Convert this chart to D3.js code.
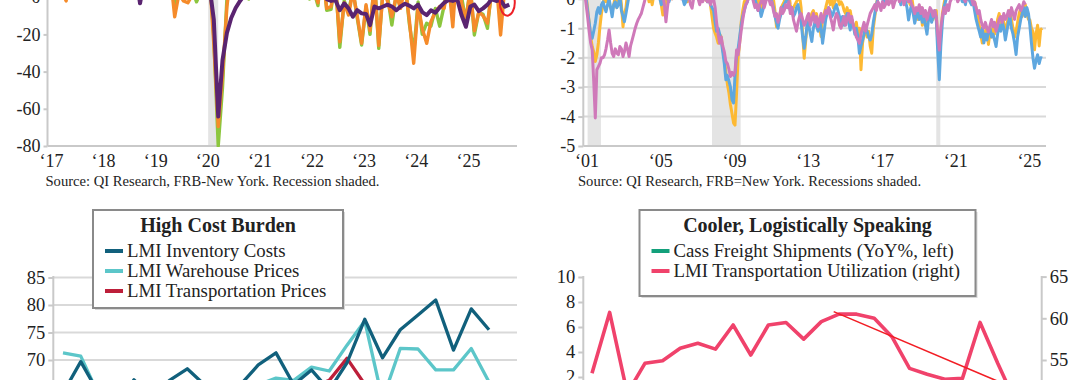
<!DOCTYPE html>
<html><head><meta charset="utf-8">
<script src="https://cdn.jsdelivr.net/npm/d3@7"></script>
<style>
body{margin:0;background:#fff;}
svg{display:block;font-family:"Liberation Serif","Times New Roman",serif;}
</style></head><body>
<svg id="c" width="1080" height="380"></svg>
<script>
// ---------------- DATA ----------------
// Top-left: FRB-NY survey indexes, monthly Jan 2017 - Nov 2025
const tlStart = [2017, 0];
const tlGreen = [
 7,17,14,6,2,16,9,20,22,25,17,15,
 15,12,20,14,18,22,19,24,17,19,21,10,
 4,8,4,9,15,-6,4,3,2,4,-2.5,3,
 5,12,-21.5,-80,-48.5,-0.5,17,3.7,17,10.5,-1,5,
 4,12,17,26,24,17,43,18,34,20,31,32,
 -1,3,-4.5,20,-7,-6.5,10,-27,-2,-8,4,-11,
 -25.7,-5,-20,10,-27.5,6,1,-15,2,-4.5,9,-14,
 -30,-2.5,-20,-14,-15.5,-6,-15.6,-4.7,11,-11.9,31,0.2,
 -12.6,5.7,-20.3,-8.1,-9.2,-16.7,5.5,11.9,-8.7,10.7,18.7];
const tlOrange = [
 8,15,12,4,-2,14,7,18,20,22,15,13,
 14,10,18,12,16,20,18,22,15,17,20,8,
 3,6,2,8,12,-10.5,2,-2,-3,1,2,3,
 4,10,-25,-69.6,-42,-5,14,3,10,12,7,5,
 5,12,17,25,22,15,35,16,28,18,26,27,
 2,5,-3,15,-6,-5,8,-24,-3,-9.6,3,-10,
 -24.8,-4,-18,8,-26,4,-2,-10.5,1,-6,6,-12,
 -35.5,-4,-17,-24.8,-13,-8,-5,-6,8,-15.9,20,-3,
 -12,4,-18,-8,-10,-14,3,9,-20.3,6,12];
const tlPurple = [
 10,14,13,9,6,12,10,16,18,20,16,14,
 14,12,15,12,14,16,15,17,12,-3.3,10,6,
 5,6,4,7,9,1,3,4,2,3,2,3,
 6,5,-12,-64.2,-33.8,-19.2,-11.2,-5.8,-2,1,3,4,
 5,10,14,18,20,18,25,20,24,20,24,25,
 3,4,2,6,-1,-2,-1.5,-7,-3.3,-6,-10.5,-7,
 -8.7,-9,-15,-5,-6,-5,-4,-5,-7,-5,-3.5,-4.5,
 -6,-4,-8,-9.6,-7,-8.3,-5.5,-3,-1.5,-2,-1,-9.6,
 -15.9,-5,-4,-7.5,-6,-4,-1,-2,-1.5,-5.1,-4];
const tlYTicks = [-80,-60,-40,-20,0];
const tlXLabels = ["‘17","‘18","‘19","‘20","‘21","‘22","‘23","‘24","‘25"];
const tlRecession = [["2020-02-01","2020-04-01"]];

// Top-right: monthly Jan 2001 - Nov 2025
const trStart = [2001, 0];
const trYellow = [
 0.3,0.1,-0.3,-0.8,-1.3,-1.62,-1.8,-2.13,-1.9,-1.5,-0.95,-0.5,
 -0.2,0.1,-0.1,0.1,-0.2,-0.3,-0.44,-0.2,0.1,-0.3,0.2,0.3,
 -0.2,-0.95,-0.5,-0.3,0.2,0.4,0.3,0.5,0.6,0.4,0.5,0.6,
 0.3,0.2,0.4,0.3,0.5,0.2,-0.1,0.1,-0.2,0.1,0.2,0.3,
 0.1,0.2,-0.2,-0.55,-0.4,-0.1,0.2,0.3,0.1,0.0,0.2,0.3,
 0.3,0.2,0.4,0.2,0.1,-0.1,0.0,-0.1,0.1,0.2,0.0,0.1,
 0.2,0.1,0.0,0.2,0.1,0.3,0.1,-0.05,0.1,0.0,-0.2,-0.6,
 -1.0,-1.17,-1.3,-1.51,-1.2,-1.3,-1.7,-2.0,-2.5,-2.9,-3.2,-3.6,
 -3.9,-4.22,-4.29,-3.2,-2.0,-1.5,-0.8,-0.4,-0.1,0.0,0.1,0.2,
 0.3,0.2,0.4,0.3,0.1,-0.2,0.0,-0.3,0.1,0.2,0.0,0.1,
 0.2,0.3,0.1,0.0,-0.4,-0.95,-0.7,-0.6,-0.3,-0.2,-0.1,0.1,
 0.1,0.2,-0.2,-0.5,-0.3,-0.2,-0.1,0.0,0.1,-0.3,-1.2,-2.02,
 -1.4,-0.9,-0.6,-0.7,-0.5,-0.4,-0.6,-0.5,-0.8,-0.9,-1.28,-0.7,
 -0.5,-0.3,-0.1,0.1,-0.2,0.0,-0.3,-0.1,0.1,0.0,-0.2,-0.1,
 -0.2,-0.4,-0.5,-0.3,-0.6,-0.4,-0.7,-0.9,-1.1,-0.8,-1.2,-1.0,
 -2.41,-1.5,-1.2,-1.0,-1.3,-1.1,-1.6,-1.85,-1.0,-0.6,-0.2,0.1,
 0.3,0.4,0.2,0.1,0.0,0.2,0.1,0.3,0.2,0.4,0.2,0.3,
 0.2,0.3,0.1,0.2,0.0,0.1,-0.1,0.0,-0.2,0.1,-0.3,-0.6,
 -0.5,-0.7,-0.4,-0.3,-0.9,-0.6,-0.8,-0.5,-0.6,-0.4,-0.5,-0.7,
 -0.5,-0.4,-1.5,-2.0,-1.2,-0.5,-0.2,0.1,0.3,0.5,0.4,0.6,
 0.5,0.6,0.7,0.5,0.4,0.6,0.3,0.2,0.1,0.0,0.2,0.1,
 0.0,-0.2,-0.1,-0.3,-0.6,-0.9,-1.2,-1.5,-1.3,-1.1,-1.0,-1.55,
 -1.1,-1.3,-0.9,-1.2,-1.0,-0.7,-0.5,-0.9,-0.6,-0.8,-1.2,-0.9,
 -0.6,-0.4,-0.7,-1.0,-1.3,-1.1,-0.8,-0.5,-0.3,-0.6,-0.4,-0.2,
 -0.5,-0.7,-0.72,-1.0,-1.11,-1.73,-1.2,-0.9,-1.6,-1.05,-1.0];
const trBlue = [
 0.2,0.0,-0.4,-0.8,-1.2,-1.34,-1.1,-0.83,-0.44,-0.3,-0.5,-0.2,
 -0.1,-0.3,-0.44,-0.2,0.0,-0.3,-0.61,-0.2,-0.1,-0.3,-0.2,0.1,
 -0.4,-0.6,-0.78,-0.5,-0.2,0.1,0.2,0.3,0.1,0.2,0.4,0.3,
 0.4,0.3,0.2,0.4,0.5,0.3,0.2,0.1,0.0,0.2,0.3,0.1,
 0.1,0.0,-0.2,-0.1,0.1,0.2,0.0,-0.1,0.1,0.2,0.1,0.3,
 0.2,0.3,0.1,0.2,0.0,-0.2,-0.1,0.1,0.2,0.0,0.1,0.2,
 0.3,0.2,0.1,0.2,0.3,0.1,0.0,0.1,-0.1,0.0,-0.2,-0.3,
 -0.4,-0.8,-1.1,-1.0,-1.2,-1.4,-1.8,-2.2,-2.75,-2.6,-2.8,-3.0,
 -3.43,-3.54,-2.6,-1.88,-1.7,-1.3,-0.9,-0.6,-0.4,-0.2,-0.1,0.1,
 0.2,0.3,0.1,0.0,-0.2,-0.4,-0.3,-0.6,-0.4,-0.2,0.0,0.1,
 0.2,0.1,-0.1,-0.3,-0.6,-0.8,-1.0,-0.7,-0.5,-0.3,-0.2,-0.1,
 0.0,-0.2,-0.4,-0.3,-0.6,-0.5,-0.3,-0.2,-0.5,-0.8,-1.3,-1.68,
 -1.3,-0.8,-0.9,-1.2,-1.45,-1.0,-0.8,-0.9,-1.1,-0.7,-1.0,-1.51,
 -1.1,-0.7,-0.5,-0.3,-0.4,-0.6,-0.5,-0.3,-0.2,-0.4,-0.6,-0.8,
 -0.6,-0.9,-0.7,-0.5,-0.8,-1.06,-0.7,-0.9,-1.2,-1.0,-1.3,-1.85,
 -1.6,-1.4,-1.2,-1.0,-1.1,-1.3,-1.4,-1.2,-0.8,-0.5,-0.2,0.0,
 0.1,0.2,0.0,-0.1,0.1,0.2,0.0,0.1,-0.1,0.2,0.1,0.0,
 0.1,0.0,-0.2,0.1,0.0,-0.1,-0.3,-0.72,-0.4,-0.2,-0.5,-0.83,
 -0.6,-0.4,-0.7,-0.5,-0.8,-0.6,-0.9,-1.2,-0.7,-0.5,-0.8,-0.6,
 -0.4,-0.7,-1.8,-2.75,-1.6,-0.8,-0.3,-0.1,0.1,0.2,0.0,0.1,
 0.2,0.3,0.1,0.2,0.0,0.1,-0.1,0.0,-0.2,0.1,0.0,-0.1,
 -0.2,-0.1,-0.4,-0.7,-0.9,-1.1,-1.3,-1.0,-1.5,-1.2,-1.4,-1.1,
 -1.0,-1.3,-1.2,-1.4,-1.62,-1.2,-0.9,-1.1,-0.8,-1.0,-1.4,-1.1,
 -0.8,-0.6,-1.0,-1.2,-1.5,-1.89,-1.3,-1.0,-0.7,-0.5,-0.3,-0.6,
 -0.3,-0.5,-0.9,-1.5,-2.0,-2.36,-2.1,-1.9,-2.2,-2.0,-2.02];
const trPink = [
 0.2,-0.2,-0.6,-1.1,-1.5,-1.74,-2.8,-4.05,-2.41,-2.3,-2.19,-2.0,
 -2.0,-1.9,-1.7,-1.4,-1.06,-1.5,-1.85,-1.96,-1.7,-1.85,-1.9,-1.62,
 -1.7,-1.96,-1.8,-1.5,-1.7,-1.96,-1.6,-1.4,-1.2,-1.0,-0.83,-0.7,
 -0.6,-0.49,-0.3,-0.1,0.1,0.2,0.3,0.2,0.4,0.3,0.2,0.3,
 0.2,0.1,0.0,0.2,-0.2,-0.78,-0.3,0.1,0.2,0.0,0.1,0.2,
 0.3,0.1,0.2,0.0,0.1,0.2,0.1,0.0,0.1,-0.2,-0.32,0.0,
 0.1,0.2,0.0,-0.2,0.0,-0.1,0.1,0.0,-0.1,0.1,-0.2,0.0,
 0.0,-0.3,-0.8,-1.2,-1.51,-1.3,-1.6,-1.8,-2.13,-2.2,-2.4,-2.64,
 -2.5,-2.6,-2.47,-1.74,-1.9,-1.51,-1.1,-0.72,-0.4,-0.2,-0.1,0.1,
 0.2,0.1,-0.1,-0.3,-0.2,-0.4,-0.2,-0.1,0.0,-0.3,-0.1,0.1,
 0.0,-0.2,-0.1,-0.4,-0.6,-0.5,-0.8,-0.6,-0.3,-0.5,-0.4,-0.2,
 -0.3,-0.1,-0.5,-0.3,-0.7,-0.9,-1.1,-0.8,-0.6,-0.5,-0.7,-0.9,
 -0.8,-0.6,-0.5,-0.9,-0.7,-0.5,-0.8,-0.6,-0.95,-0.7,-0.5,-0.8,
 -0.6,-0.4,-0.5,-0.3,-0.6,-0.8,-1.06,-0.7,-0.5,-0.6,-0.9,-1.0,
 -0.8,-0.6,-0.9,-0.7,-0.5,-0.8,-0.6,-0.9,-1.1,-1.3,-1.4,-1.51,
 -1.2,-1.0,-0.8,-1.1,-0.9,-0.7,-0.5,-0.4,-0.3,-0.2,-0.4,-0.1,
 -0.2,-0.4,-0.1,-0.3,-0.2,0.0,-0.2,-0.1,0.0,-0.3,-0.1,0.0,
 0.1,-0.1,0.0,0.1,-0.2,0.0,0.1,-0.1,0.0,-0.2,-0.3,-0.5,
 -0.3,-0.4,-0.2,-0.5,-0.3,-0.6,-0.4,-0.7,-0.5,-0.3,-0.4,-0.6,
 -0.4,-0.6,-1.2,-1.74,-1.0,-0.6,-0.3,-0.5,-0.2,-0.4,-0.1,0.0,
 0.1,0.0,0.1,-0.1,0.0,0.2,0.1,0.0,-0.1,0.1,0.0,0.1,
 0.0,-0.2,-0.1,-0.3,-0.5,-0.4,-0.7,-0.9,-1.0,-0.8,-1.0,-1.13,
 -0.9,-0.7,-0.95,-0.8,-1.1,-0.9,-0.7,-0.6,-0.8,-0.5,-0.7,-0.6,
 -0.4,-0.6,-0.3,-0.5,-0.7,-0.4,-0.3,-0.2,-0.4,-0.3,-0.1,-0.2];
const trYTicks = [-5,-4,-3,-2,-1,0];
const trXLabels = [["‘01",2001],["‘05",2005],["‘09",2009],["‘13",2013],["‘17",2017],["‘21",2021],["‘25",2025]];
const trRecessions = [["2001-03-01","2001-11-01"],["2007-12-01","2009-06-01"],["2020-02-01","2020-04-01"]];

// Bottom-left: High Cost Burden (monthly index)
const blInventory = [64,69.7,64,62,66.4,63,66.3,68.4,65.4,63.5,65.5,69.1,71.3,65.5,68.2,64.5,69.5,77.4,70.4,75.5,78.2,80.9,71.8,79.3,75.5];
const blWarehouse = [71.3,70.7,63.7,62,63,62.5,63,64,63.5,64,64.5,65.5,66.7,66.3,68.7,68.0,72.7,77.1,62.8,72.1,72.0,68.2,68.2,72.1,66];
const blTransport = [60,59,58.5,58,59,58,59.5,60,59,60.5,61,62,63,64,65,66.3,70.3,65.6,61,62,63.5,62,63,61,60];
const blYTicks = [60,65,70,75,80,85];
const blNames = ["LMI Inventory Costs","LMI Warehouse Prices","LMI Transportation Prices"];

// Bottom-right: Cooler, Logistically Speaking
const brCass = [-6,-5,-8,-7,-6,-4,-5,-6,-3,-7,-5,-6,-4,-3,-5,-7,-6,-4,-5,-6,-8,-9,-7,-8,-10];
const brUtil = [53.4,60.7,51,54.6,54.9,56.4,57.0,56.3,59.2,55.6,59.2,59.5,57.5,59.6,60.5,60.5,60.0,57.8,54.0,53.3,52.7,52.8,59.5,54.6,50];
const brTrendIdx = [13.7, 23.4];
const brTrendVal = [60.8, 52.1];
const brLTicks = [0,2,4,6,8,10];
const brRTicks = [45,50,55,60,65];
const brNames = ["Cass Freight Shipments (YoY%, left)","LMI Transportation Utilization (right)"];

// ---------------- DRAW ----------------
const svg = d3.select("#c");
const AX = "#c9c9c9", GRID = "#d9d9d9", TXT = "#222";
const defs = svg.append("defs");
function clip(id,x,y,w,h){defs.append("clipPath").attr("id",id).append("rect").attr("x",x).attr("y",y).attr("width",w).attr("height",h);}
const monthDates = (start,n)=>d3.range(n).map(i=>new Date(start[0], start[1]+i, 1));
const pd = s=>{const [y,m,d]=s.split("-").map(Number);return new Date(y,m-1,d);};
const TICKFS = 18;

// ===== Top-left =====
{
  const x = d3.scaleTime().domain([new Date(2017,0,1), new Date(2026,0,1)]).range([49,518]);
  const y = d3.scaleLinear().domain([-80,0]).range([146,-2.8]);
  clip("ctl",47,-20,475,167);
  const g = svg.append("g");
  tlRecession.forEach(r=>g.append("rect").attr("x",x(pd(r[0]))-1.5).attr("y",-10)
     .attr("width",x(pd(r[1]))-x(pd(r[0]))+1.5).attr("height",156).attr("fill","#e4e4e4"));
  g.append("line").attr("x1",47.5).attr("x2",47.5).attr("y1",-5).attr("y2",146).attr("stroke",AX).attr("stroke-width",2);
  g.append("line").attr("x1",47.5).attr("x2",517).attr("y1",146).attr("y2",146).attr("stroke",AX).attr("stroke-width",2);
  const ax = d3.axisLeft(y).tickValues(tlYTicks).tickSize(4).tickPadding(3).tickFormat(d=>d);
  const ag = g.append("g").attr("transform","translate(47.5,0)").call(ax);
  ag.select(".domain").remove();
  ag.selectAll("line").attr("stroke",AX).attr("stroke-width",2);
  ag.selectAll("text").attr("font-size",TICKFS).attr("fill",TXT).attr("font-family","Liberation Serif");
  tlXLabels.forEach((t,i)=>g.append("text").attr("x",x(new Date(2017+i,0,1))+2.5).attr("y",167)
     .attr("text-anchor","middle").attr("font-size",TICKFS).attr("fill",TXT).text(t));
  const dates = monthDates(tlStart, tlGreen.length);
  const line = d3.line().x((d,i)=>x(dates[i])).y(d=>y(d));
  const lg = g.append("g").attr("clip-path","url(#ctl)");
  [[tlGreen,"#8cc63e",3.4],[tlOrange,"#f58b2a",3.4],[tlPurple,"#5a2470",4]].forEach(([s,c,w])=>
     lg.append("path").attr("d",line(s)).attr("fill","none").attr("stroke",c).attr("stroke-width",w).attr("stroke-linejoin","round"));
  const li = tlPurple.length-1;
  g.append("ellipse").attr("cx",x(dates[li])-2).attr("cy",y(tlPurple[li])-2).attr("rx",7.5).attr("ry",13)
     .attr("fill","none").attr("stroke","#ee2027").attr("stroke-width",2);
  g.append("text").attr("x",45.5).attr("y",186).attr("font-size",14.6).attr("fill",TXT)
     .text("Source: QI Research, FRB-New York. Recession shaded.");
}

// ===== Top-right =====
{
  const x = d3.scaleTime().domain([new Date(2001,0,1), new Date(2026,0,1)]).range([584.6,1045.3]);
  const y = d3.scaleLinear().domain([-5,0]).range([146,-1.2]);
  clip("ctr",583,-20,465,167);
  const g = svg.append("g");
  trRecessions.forEach(r=>g.append("rect").attr("x",x(pd(r[0]))).attr("y",-10)
     .attr("width",Math.max(3,x(pd(r[1]))-x(pd(r[0]))+1)).attr("height",156).attr("fill","#e4e4e4"));
  trYTicks.forEach(t=>{ if(t>-5) g.append("line").attr("x1",583).attr("x2",1046).attr("y1",y(t)).attr("y2",y(t)).attr("stroke",GRID).attr("stroke-width",2);});
  g.append("line").attr("x1",583.3).attr("x2",583.3).attr("y1",-5).attr("y2",146).attr("stroke",AX).attr("stroke-width",2);
  g.append("line").attr("x1",583.3).attr("x2",1046).attr("y1",146).attr("y2",146).attr("stroke",AX).attr("stroke-width",2);
  const ax = d3.axisLeft(y).tickValues(trYTicks).tickSize(5).tickPadding(3).tickFormat(d=>d);
  const ag = g.append("g").attr("transform","translate(583.3,0)").call(ax);
  ag.select(".domain").remove();
  ag.selectAll("line").attr("stroke",AX).attr("stroke-width",2);
  ag.selectAll("text").attr("font-size",TICKFS).attr("fill",TXT).attr("font-family","Liberation Serif");
  trXLabels.forEach(([t,yr])=>g.append("text").attr("x",x(new Date(yr,0,1))+2.5).attr("y",167)
     .attr("text-anchor","middle").attr("font-size",TICKFS).attr("fill",TXT).text(t));
  const lg = g.append("g").attr("clip-path","url(#ctr)");
  [[trYellow,"#fdb933"],[trBlue,"#5ea7df"],[trPink,"#cf79b9"]].forEach(([s,c])=>{
     const dates = monthDates(trStart, s.length);
     const line = d3.line().x((d,i)=>x(dates[i])).y(d=>y(d));
     lg.append("path").attr("d",line(s)).attr("fill","none").attr("stroke",c).attr("stroke-width",3).attr("stroke-linejoin","round");
  });
  g.append("text").attr("x",578).attr("y",186).attr("font-size",14.6).attr("fill",TXT)
     .text("Source: QI Research, FRB=New York. Recessions shaded.");
}

function legendBox(g,x0,y0,w,h,title,items,tfs){
  g.append("rect").attr("x",x0+2).attr("y",y0+2).attr("width",w).attr("height",h).attr("fill","#d8d8d8");
  g.append("rect").attr("x",x0).attr("y",y0).attr("width",w).attr("height",h).attr("fill","#fff").attr("stroke","#8a8a8a").attr("stroke-width",2);
  g.append("text").attr("x",x0+w/2).attr("y",y0+22).attr("text-anchor","middle").attr("font-size",tfs).attr("font-weight","bold").attr("fill",TXT).text(title);
  items.forEach((it,i)=>{
    const yy = y0+41+i*20;
    g.append("line").attr("x1",x0+12).attr("x2",x0+30).attr("y1",yy).attr("y2",yy).attr("stroke",it[1]).attr("stroke-width",4);
    g.append("text").attr("x",x0+34).attr("y",yy+6).attr("font-size",18.8).attr("fill",TXT).text(it[0]);
  });
}

// ===== Bottom-left =====
{
  const x = d3.scaleLinear().domain([0,24]).range([63,489]);
  const y = d3.scaleLinear().domain([70,85]).range([360,277.5]);
  clip("cbl",53,270,470,120);
  const g = svg.append("g");
  blYTicks.forEach(t=>g.append("line").attr("x1",53).attr("x2",517).attr("y1",y(t)).attr("y2",y(t)).attr("stroke",GRID).attr("stroke-width",2));
  g.append("line").attr("x1",53.3).attr("x2",53.3).attr("y1",276).attr("y2",400).attr("stroke",AX).attr("stroke-width",2);
  const ax = d3.axisLeft(y).tickValues(blYTicks).tickSize(5).tickPadding(3).tickFormat(d=>d);
  const ag = g.append("g").attr("transform","translate(53.3,0)").call(ax);
  ag.select(".domain").remove();
  ag.selectAll("line").attr("stroke",AX).attr("stroke-width",2);
  ag.selectAll("text").attr("font-size",18.5).attr("fill",TXT).attr("font-family","Liberation Serif");
  const line = d3.line().x((d,i)=>x(i)).y(d=>y(d));
  const lg = g.append("g").attr("clip-path","url(#cbl)");
  const cols = ["#11607c","#5cc6c9","#bd1f3a"];
  [[blInventory,cols[0]],[blWarehouse,cols[1]],[blTransport,cols[2]]].reverse().forEach(([s,c])=>
     lg.append("path").attr("d",line(s)).attr("fill","none").attr("stroke",c).attr("stroke-width",3.3).attr("stroke-linejoin","round"));
  legendBox(g,93,210,250,98,"High Cost Burden",blNames.map((n,i)=>[n,cols[i]]),20);
}

// ===== Bottom-right =====
{
  const x = d3.scaleLinear().domain([0,24]).range([592,592+17.64*24]);
  const yl = d3.scaleLinear().domain([0,10]).range([402,277]);
  const yr = d3.scaleLinear().domain([55,65]).range([360,276.6]);
  clip("cbr",583,270,459,120);
  const g = svg.append("g");
  g.append("line").attr("x1",583.3).attr("x2",583.3).attr("y1",276).attr("y2",400).attr("stroke",AX).attr("stroke-width",2);
  g.append("line").attr("x1",1041.7).attr("x2",1041.7).attr("y1",276).attr("y2",400).attr("stroke",AX).attr("stroke-width",2);
  const al = g.append("g").attr("transform","translate(583.3,0)").call(d3.axisLeft(yl).tickValues(brLTicks).tickSize(5).tickPadding(3).tickFormat(d=>d));
  const ar = g.append("g").attr("transform","translate(1041.7,0)").call(d3.axisRight(yr).tickValues(brRTicks).tickSize(5).tickPadding(3).tickFormat(d=>d));
  [al,ar].forEach(a=>{a.select(".domain").remove();a.selectAll("line").attr("stroke",AX).attr("stroke-width",2);
     a.selectAll("text").attr("font-size",18.5).attr("fill",TXT).attr("font-family","Liberation Serif");});
  const lg = g.append("g").attr("clip-path","url(#cbr)");
  lg.append("path").attr("d",d3.line().x((d,i)=>x(i)).y(d=>yl(d))(brCass)).attr("fill","none").attr("stroke","#13a07b").attr("stroke-width",3.5);
  lg.append("path").attr("d",d3.line().x((d,i)=>x(i)).y(d=>yr(d))(brUtil)).attr("fill","none").attr("stroke","#f0426b").attr("stroke-width",3.6).attr("stroke-linejoin","round");
  lg.append("path").attr("d",d3.line().x((d,i)=>x(brTrendIdx[i])).y(d=>yr(d))(brTrendVal)).attr("fill","none").attr("stroke","#f21d24").attr("stroke-width",1.6);
  legendBox(g,639.5,210,336,86,"Cooler, Logistically Speaking",brNames.map((n,i)=>[n,["#13a07b","#f0426b"][i]]),20);
}
</script>
</body></html>
